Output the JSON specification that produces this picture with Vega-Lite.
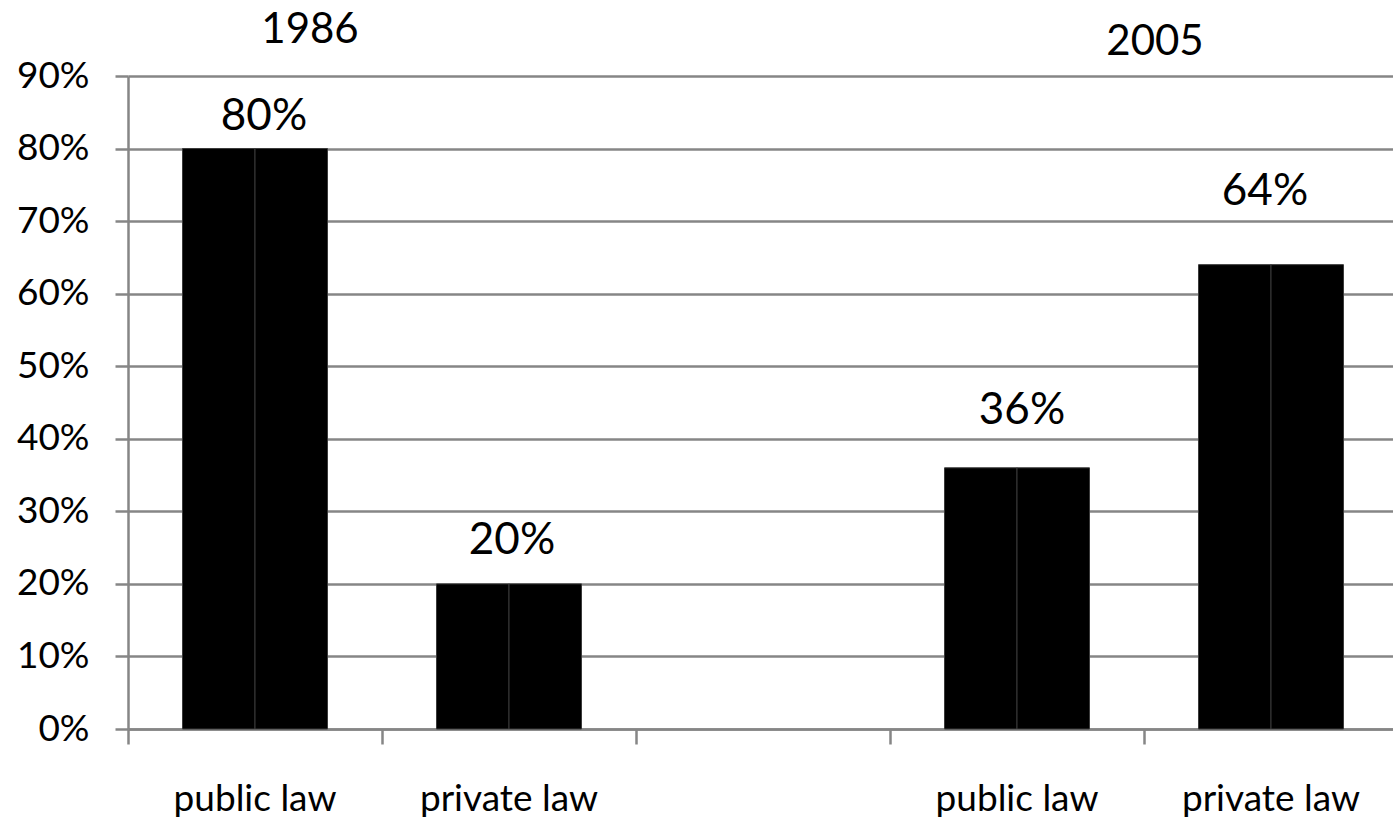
{
  "$schema": "https://vega.github.io/schema/vega-lite/v6.json",
  "width": 1270,
  "height": 653,
  "autosize": {"type": "none"},
  "padding": {"left": 128, "top": 76, "right": 0, "bottom": 92},
  "background": "white",
  "config": {"view": {"stroke": null}, "font": "Lato"},
  "datasets": {
    "bars": [
      {"cat": "1986 public law", "series": "a", "share": 0.8},
      {"cat": "1986 public law", "series": "b", "share": 0.8},
      {"cat": "1986 private law", "series": "a", "share": 0.2},
      {"cat": "1986 private law", "series": "b", "share": 0.2},
      {"cat": "2005 public law", "series": "a", "share": 0.36},
      {"cat": "2005 public law", "series": "b", "share": 0.36},
      {"cat": "2005 private law", "series": "a", "share": 0.64},
      {"cat": "2005 private law", "series": "b", "share": 0.64}
    ],
    "labels": [
      {"cat": "1986 public law", "share": 0.8},
      {"cat": "1986 private law", "share": 0.2},
      {"cat": "2005 public law", "share": 0.36},
      {"cat": "2005 private law", "share": 0.64}
    ],
    "y1986": [{"year": "1986", "cat": "1986 public law"}],
    "y2005": [{"year": "2005", "cat": "2005 public law"}]
  },
  "layer": [
    {
      "data": {"name": "bars"},
      "mark": {"type": "bar", "fill": "#000000", "stroke": "#3a3a3a", "strokeWidth": 1},
      "encoding": {
        "x": {
          "field": "cat",
          "type": "nominal",
          "sort": null,
          "scale": {"domain": ["1986 public law", "1986 private law", "gap", "2005 public law", "2005 private law"], "paddingInner": 0, "paddingOuter": 0},
          "axis": {
            "title": null,
            "bandPosition": 0,
            "labelExpr": "datum.value == 'gap' ? '' : slice(datum.value, 5)",
            "labelAngle": 0,
            "labelFontSize": 37,
            "labelColor": "#000000",
            "labelBaseline": "top",
            "labelPadding": 37,
            "tickSize": 15,
            "tickWidth": 2.5,
            "tickColor": "#868686",
            "domainColor": "#868686",
            "domainWidth": 2.5,
            "grid": false
          }
        },
        "xOffset": {"field": "series", "type": "nominal", "scale": {"paddingInner": 0, "paddingOuter": 0.752}},
        "y": {
          "field": "share",
          "type": "quantitative",
          "scale": {"domain": [0, 0.9], "nice": false},
          "axis": {
            "title": null,
            "format": ".0%",
            "values": [0, 0.1, 0.2, 0.3, 0.4, 0.5, 0.6, 0.7, 0.8, 0.9],
            "labelFontSize": 37,
            "labelColor": "#000000",
            "labelPadding": 26,
            "tickSize": 13,
            "tickWidth": 2.5,
            "tickColor": "#868686",
            "domainColor": "#868686",
            "domainWidth": 2.5,
            "grid": true,
            "gridColor": "#868686",
            "gridWidth": 2.5
          }
        }
      }
    },
    {
      "data": {"name": "labels"},
      "transform": [{"filter": "datum.cat == '1986 public law'"}],
      "mark": {"type": "text", "fontSize": 44, "baseline": "alphabetic", "dy": -19, "dx": 9, "color": "#000000"},
      "encoding": {
        "x": {"field": "cat", "type": "nominal", "sort": null},
        "y": {"field": "share", "type": "quantitative"},
        "text": {"field": "share", "type": "quantitative", "format": ".0%"}
      }
    },
    {
      "data": {"name": "labels"},
      "transform": [{"filter": "datum.cat == '1986 private law'"}],
      "mark": {"type": "text", "fontSize": 44, "baseline": "alphabetic", "dy": -30, "dx": 3, "color": "#000000"},
      "encoding": {
        "x": {"field": "cat", "type": "nominal", "sort": null},
        "y": {"field": "share", "type": "quantitative"},
        "text": {"field": "share", "type": "quantitative", "format": ".0%"}
      }
    },
    {
      "data": {"name": "labels"},
      "transform": [{"filter": "datum.cat == '2005 public law'"}],
      "mark": {"type": "text", "fontSize": 44, "baseline": "alphabetic", "dy": -44, "dx": 5, "color": "#000000"},
      "encoding": {
        "x": {"field": "cat", "type": "nominal", "sort": null},
        "y": {"field": "share", "type": "quantitative"},
        "text": {"field": "share", "type": "quantitative", "format": ".0%"}
      }
    },
    {
      "data": {"name": "labels"},
      "transform": [{"filter": "datum.cat == '2005 private law'"}],
      "mark": {"type": "text", "fontSize": 44, "baseline": "alphabetic", "dy": -60, "dx": -6, "color": "#000000"},
      "encoding": {
        "x": {"field": "cat", "type": "nominal", "sort": null},
        "y": {"field": "share", "type": "quantitative"},
        "text": {"field": "share", "type": "quantitative", "format": ".0%"}
      }
    },
    {
      "data": {"name": "y1986"},
      "mark": {"type": "text", "fontSize": 42, "baseline": "alphabetic", "dx": 55, "color": "#000000"},
      "encoding": {
        "x": {"field": "cat", "type": "nominal", "sort": null},
        "y": {"datum": 0.9455, "type": "quantitative"},
        "text": {"field": "year"}
      }
    },
    {
      "data": {"name": "y2005"},
      "mark": {"type": "text", "fontSize": 42, "baseline": "alphabetic", "dx": 138, "color": "#000000"},
      "encoding": {
        "x": {"field": "cat", "type": "nominal", "sort": null},
        "y": {"datum": 0.929, "type": "quantitative"},
        "text": {"field": "year"}
      }
    }
  ]
}
